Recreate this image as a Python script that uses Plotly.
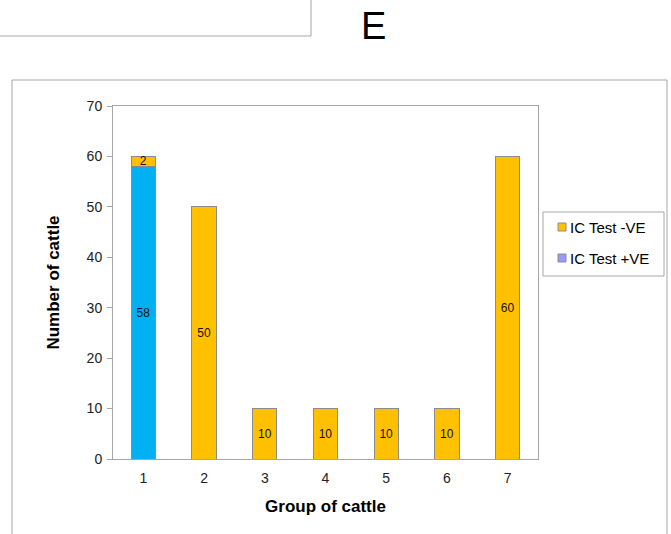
import plotly.graph_objects as go

groups = ["1", "2", "3", "4", "5", "6", "7"]
ic_pos = [58, 0, 0, 0, 0, 0, 0]
ic_neg = [2, 50, 10, 10, 10, 10, 60]
y_ticks = [0, 10, 20, 30, 40, 50, 60, 70]
legend_labels = ["IC Test -VE", "IC Test +VE"]

FONT = "Liberation Sans, Arial, sans-serif"
ORANGE = "#FFC000"
BLUE = "#00B0F0"
LAVENDER = "#9999FF"
EDGE = "#8C8C8C"
FRAME = "#A6A6A6"

fig = go.Figure()
fig.add_trace(go.Bar(
    x=groups, y=ic_pos, name="IC Test +VE", showlegend=False,
    marker=dict(color=BLUE, line=dict(color=EDGE, width=1)),
    text=[str(v) if v else "" for v in ic_pos], textposition="inside",
    insidetextanchor="middle", constraintext="none", textangle=0,
    textfont=dict(family=FONT, size=12, color="#111"),
    width=0.4, hoverinfo="skip",
))
fig.add_trace(go.Bar(
    x=groups, y=ic_neg, name="IC Test -VE", showlegend=False,
    marker=dict(color=ORANGE, line=dict(color=EDGE, width=1)),
    text=[str(v) if v else "" for v in ic_neg], textposition="inside",
    insidetextanchor="middle", constraintext="none", textangle=0,
    textfont=dict(family=FONT, size=12, color="#111"),
    width=0.4, hoverinfo="skip",
))

L, R, T, B = 113, 538, 106, 459
W, H = 671, 534
pw, ph = R - L, B - T

def px(x):
    return (x - L) / pw

def py(y):
    return (B - y) / ph

shapes = [
    # outer chart frame
    dict(type="rect", xref="paper", yref="paper",
         x0=px(12), x1=px(667), y0=py(545), y1=py(80),
         line=dict(color=FRAME, width=1), layer="below"),
    # edges of the neighbouring panel (top-left)
    dict(type="line", xref="paper", yref="paper",
         x0=px(-5), x1=px(311), y0=py(36), y1=py(36),
         line=dict(color=FRAME, width=1)),
    dict(type="line", xref="paper", yref="paper",
         x0=px(311), x1=px(311), y0=py(36), y1=py(-5),
         line=dict(color=FRAME, width=1)),
    # legend box
    dict(type="rect", xref="paper", yref="paper",
         x0=px(543), x1=px(664), y0=py(276), y1=py(212),
         line=dict(color=FRAME, width=1), fillcolor="white"),
]

annotations = [dict(text="E", xref="paper", yref="paper",
                    x=px(373), y=py(26), xanchor="center", yanchor="middle",
                    showarrow=False, font=dict(family=FONT, size=38, color="black"))]

legend_colors = [ORANGE, LAVENDER]
legend_y = [227, 258]
for lab, col, yy in zip(legend_labels, legend_colors, legend_y):
    shapes.append(dict(type="rect", xref="paper", yref="paper",
                       x0=px(558), x1=px(566), y0=py(yy + 4), y1=py(yy - 4),
                       line=dict(color=EDGE, width=1), fillcolor=col))
    annotations.append(dict(text=lab, xref="paper", yref="paper",
                            x=px(568), y=py(yy), xanchor="left", yanchor="middle",
                            showarrow=False, font=dict(family=FONT, size=15, color="black")))

fig.update_layout(
    width=W, height=H,
    margin=dict(l=L, r=W - R, t=T, b=H - B, pad=0),
    paper_bgcolor="white", plot_bgcolor="white",
    barmode="stack", showlegend=False,
    font=dict(family=FONT, size=14, color="#222"),
    shapes=shapes,
    annotations=annotations,
    xaxis=dict(
        title=dict(text="<b>Group of cattle</b>", font=dict(family=FONT, size=17, color="black"), standoff=15),
        showline=True, linecolor=FRAME, linewidth=1, mirror=True,
        ticks="", tickfont=dict(family=FONT, size=14, color="#222"),
        ticklabelstandoff=6,
        showgrid=False, fixedrange=True,
    ),
    yaxis=dict(
        title=dict(text="<b>Number of cattle</b>", font=dict(family=FONT, size=17, color="black"), standoff=22),
        range=[0, 70], tickvals=y_ticks,
        showline=True, linecolor=FRAME, linewidth=1, mirror=True,
        ticks="outside", ticklen=5, tickcolor=FRAME,
        tickfont=dict(family=FONT, size=14, color="#222"),
        ticklabelstandoff=2,
        showgrid=False, zeroline=False, fixedrange=True,
    ),
)

fig.write_html("out.html", config={"displayModeBar": False},
               post_script="document.body.style.margin='0';")
